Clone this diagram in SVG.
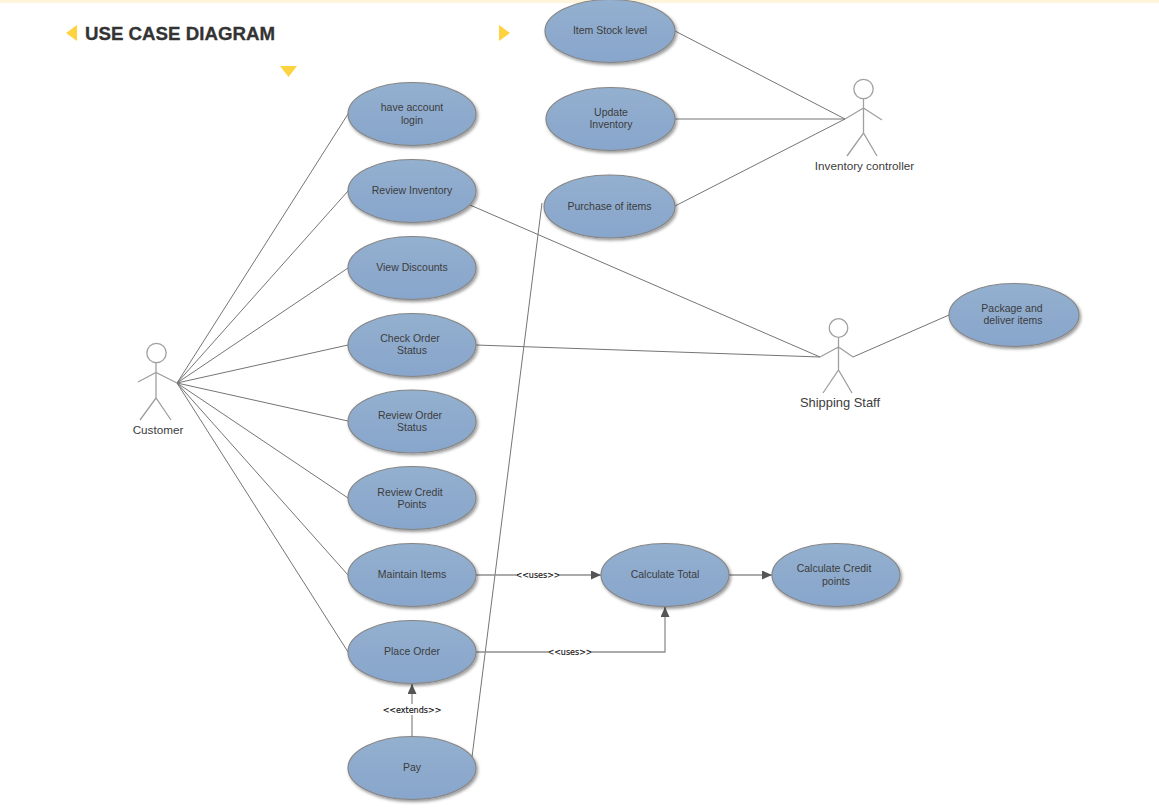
<svg xmlns="http://www.w3.org/2000/svg" width="1159" height="810" viewBox="0 0 1159 810">
<defs>
<linearGradient id="uc" x1="0" y1="0" x2="0" y2="1"><stop offset="0" stop-color="#93b0cf"/><stop offset="1" stop-color="#88a5cc"/></linearGradient>
<filter id="sh" x="-10%" y="-10%" width="125%" height="130%"><feDropShadow dx="1.5" dy="2" stdDeviation="1.5" flood-color="#000" flood-opacity="0.4"/></filter>
<marker id="arr" markerWidth="12" markerHeight="10" refX="10" refY="4.5" orient="auto" markerUnits="userSpaceOnUse"><path d="M0 0L10 4.5L0 9Z" fill="#555"/></marker>
<style>
text{font-family:"Liberation Sans",Arial,sans-serif;fill:#3c3c3c}
.uc{fill:url(#uc);stroke:#868686;stroke-width:1.2;filter:url(#sh)}
.t{font-size:10.5px;text-anchor:middle}
.a{font-size:11.7px;text-anchor:middle}
.c{fill:none;stroke:#757575;stroke-width:1}
.s{fill:none;stroke:#a0a0a0;stroke-width:1.3}
.k{fill:none;stroke:#8f8f8f;stroke-width:1.3}
.h{fill:#fff;stroke:#a0a0a0;stroke-width:1.3}
.l{font-family:"DejaVu Sans",sans-serif;font-size:8px;text-anchor:middle;fill:#111;stroke:#111;stroke-width:.15}
.y{fill:#ffd23f}
</style>
</defs>
<rect width="1159" height="810" fill="#fff"/>
<rect width="1159" height="3" fill="#fff4dc"/>
<g id="title">
<path class="y" d="M77 25V41L66 33Z"/>
<path class="y" d="M499 25V41L510 33Z"/>
<path class="y" d="M280 66H297L288.500 77Z"/>
<text x="85" y="39.500" font-size="18.700" font-weight="bold" stroke="#333" stroke-width="0.3" style="fill:#333">USE CASE DIAGRAM</text>
</g>
<g id="connectors">
<path class="c" d="M177 383L348 114M177 383L348 191M177 383L348 268M177 383L348 345M177 383L348 421M177 383L348 498M177 383L348 575M177 383L348 652"/>
<path class="c" d="M470 205L820 357M476 345L820 357M853 357L949 315"/>
<path class="c" d="M675 31L845 119M675 119H845M675 206L845 119"/>
<path class="c" d="M472 757L542 203"/>
<path class="k" d="M476 575H601" marker-end="url(#arr)"/>
<path class="k" d="M729 575H772" marker-end="url(#arr)"/>
<path class="k" d="M476 652H665V607" marker-end="url(#arr)"/>
<path class="k" d="M412 736V684" marker-end="url(#arr)"/>
<rect x="516" y="570" width="44" height="10" fill="#fff"/>
<text class="l" x="538" y="578">&lt;&lt;uses&gt;&gt;</text>
<rect x="548" y="647" width="44" height="10" fill="#fff"/>
<text class="l" x="570" y="655">&lt;&lt;uses&gt;&gt;</text>
<rect x="383" y="704" width="58" height="11" fill="#fff"/>
<text class="l" x="412" y="712.500">&lt;&lt;extends&gt;&gt;</text>
</g>
<g id="customer">
<circle class="h" cx="156.500" cy="353" r="9.700"/>
<path class="s" d="M156 363V398M138 382L156 372.500L177 383M140 420L156 398L171 420"/>
<text class="a" x="158" y="434">Customer</text>
</g>
<g id="inventory-controller">
<circle class="h" cx="863.500" cy="89" r="9.700"/>
<path class="s" d="M863.500 99V133M845 119L863.500 108L882 120M847 156L863.500 133L877 156"/>
<text class="a" x="864.500" y="170">Inventory controller</text>
</g>
<g id="shipping-staff">
<circle class="h" cx="838.500" cy="328" r="9.300"/>
<path class="s" d="M838.500 338V370M820 357L838.500 347L853 357M823 393L838.500 370L852 393"/>
<text class="a" x="840" y="407" style="font-size:12.900px">Shipping Staff</text>
</g>
<g id="have-account"><ellipse class="uc" cx="412" cy="114" rx="64" ry="31.500"/><text class="t" x="412" y="111">have account</text><text class="t" x="412" y="124">login</text></g>
<g id="review-inventory"><ellipse class="uc" cx="412" cy="191" rx="64" ry="31.500"/><text class="t" x="412" y="194">Review Inventory</text></g>
<g id="view-discounts"><ellipse class="uc" cx="412" cy="268" rx="64" ry="31.500"/><text class="t" x="412" y="271">View Discounts</text></g>
<g id="check-order"><ellipse class="uc" cx="412" cy="345" rx="64" ry="31.500"/><text class="t" x="410" y="342">Check Order</text><text class="t" x="412" y="354">Status</text></g>
<g id="review-order"><ellipse class="uc" cx="412" cy="421.500" rx="64" ry="31.500"/><text class="t" x="410" y="419">Review Order</text><text class="t" x="412" y="431">Status</text></g>
<g id="review-credit"><ellipse class="uc" cx="412" cy="498" rx="64" ry="31.500"/><text class="t" x="410" y="496">Review Credit</text><text class="t" x="412" y="508">Points</text></g>
<g id="maintain-items"><ellipse class="uc" cx="412" cy="575" rx="64" ry="31.500"/><text class="t" x="412" y="578">Maintain Items</text></g>
<g id="place-order"><ellipse class="uc" cx="412" cy="652" rx="64" ry="31.500"/><text class="t" x="412" y="655">Place Order</text></g>
<g id="pay"><ellipse class="uc" cx="412" cy="768" rx="64" ry="31.500"/><text class="t" x="412" y="771">Pay</text></g>
<g id="item-stock"><ellipse class="uc" cx="610" cy="31" rx="65" ry="31.500"/><text class="t" x="610" y="34">Item Stock level</text></g>
<g id="update-inventory"><ellipse class="uc" cx="610.500" cy="119" rx="64.500" ry="31.500"/><text class="t" x="611" y="116">Update</text><text class="t" x="611" y="128">Inventory</text></g>
<g id="purchase"><ellipse class="uc" cx="609.500" cy="206.500" rx="65.500" ry="31.500"/><text class="t" x="609.500" y="210">Purchase of items</text></g>
<g id="package"><ellipse class="uc" cx="1014" cy="315" rx="65" ry="31.500"/><text class="t" x="1012" y="312">Package and</text><text class="t" x="1013" y="324">deliver items</text></g>
<g id="calculate-total"><ellipse class="uc" cx="665" cy="575" rx="64" ry="31.500"/><text class="t" x="665" y="578">Calculate Total</text></g>
<g id="calculate-credit"><ellipse class="uc" cx="836" cy="575" rx="64" ry="31.500"/><text class="t" x="834" y="572">Calculate Credit</text><text class="t" x="836" y="585">points</text></g>
</svg>
